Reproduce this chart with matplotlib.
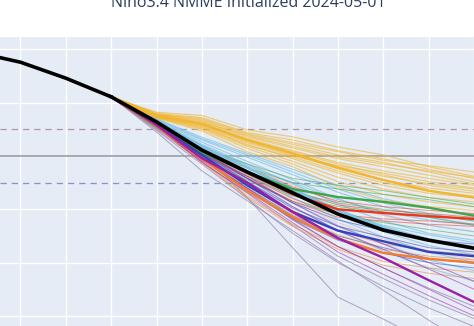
import matplotlib
matplotlib.use('Agg')
import matplotlib.pyplot as plt

# Observed Nino3.4 anomaly (months relative to Jan 2024)
obs_bulan = [-1, 0, 1, 2]
obs_nilai = [1.95, 1.76, 1.46, 1.11]

# Forecast months; every member starts from the last observed value
fc_bulan = [2, 3, 4, 5, 6, 7, 8, 9, 10]
titik_awal = 1.11

# Ensemble mean of all models
rata_semua = [0.64, 0.11, -0.30, -0.69, -1.09, -1.39, -1.58, -1.73]

# Members per model (values for months 3..10)
kuning = [
    [0.82, 0.76, 0.49, 0.36, 0.17, 0.02, -0.20, -0.38],
    [0.80, 0.72, 0.44, 0.30, 0.10, -0.05, -0.25, -0.42],
    [0.79, 0.68, 0.40, 0.22, 0.02, -0.12, -0.30, -0.48],
    [0.78, 0.66, 0.36, 0.15, -0.05, -0.20, -0.36, -0.52],
    [0.77, 0.63, 0.33, 0.10, -0.12, -0.28, -0.42, -0.55],
    [0.76, 0.60, 0.30, 0.05, -0.20, -0.38, -0.52, -0.62],
    [0.75, 0.58, 0.27, 0.02, -0.24, -0.45, -0.60, -0.70],
    [0.74, 0.55, 0.22, -0.05, -0.32, -0.55, -0.70, -0.78],
    [0.73, 0.52, 0.18, -0.10, -0.40, -0.62, -0.78, -0.86],
    [0.72, 0.50, 0.14, -0.15, -0.48, -0.72, -0.86, -0.95],
    [0.71, 0.47, 0.08, -0.20, -0.58, -0.83, -0.95, -1.02],
    [0.78, 0.70, 0.42, 0.25, 0.08, -0.08, -0.18, -0.30],
    [0.76, 0.64, 0.38, 0.18, -0.02, -0.15, -0.28, -0.40],
    [0.74, 0.57, 0.25, 0.00, -0.18, -0.32, -0.48, -0.60],
    [0.73, 0.54, 0.20, -0.02, -0.28, -0.50, -0.66, -0.75],
    [0.75, 0.61, 0.31, 0.08, -0.15, -0.35, -0.55, -0.66],
]
kuning_rata = [0.76, 0.60, 0.30, 0.05, -0.22, -0.45, -0.65, -0.78]

biru_muda = [
    [0.70, 0.35, 0.05, -0.25, -0.55, -0.80, -0.98, -1.10],
    [0.68, 0.30, -0.02, -0.35, -0.68, -0.95, -1.15, -1.28],
    [0.67, 0.26, -0.10, -0.45, -0.80, -1.10, -1.30, -1.42],
    [0.66, 0.22, -0.15, -0.52, -0.90, -1.22, -1.45, -1.58],
    [0.65, 0.18, -0.22, -0.60, -1.00, -1.32, -1.55, -1.70],
    [0.64, 0.14, -0.28, -0.68, -1.08, -1.42, -1.68, -1.85],
    [0.63, 0.10, -0.35, -0.78, -1.18, -1.52, -1.80, -2.00],
    [0.62, 0.07, -0.42, -0.88, -1.30, -1.65, -1.95, -2.15],
    [0.66, 0.20, -0.18, -0.50, -0.82, -1.05, -1.20, -1.30],
    [0.64, 0.12, -0.30, -0.65, -1.02, -1.30, -1.48, -1.62],
    [0.61, 0.04, -0.48, -0.95, -1.40, -1.78, -2.10, -2.35],
    [0.69, 0.32, 0.02, -0.30, -0.62, -0.88, -1.08, -1.22],
]
biru_muda_rata = [0.65, 0.17, -0.22, -0.62, -1.02, -1.35, -1.58, -1.72]

hijau = [
    [0.54, 0.02, -0.38, -0.75, -0.95, -1.05, -1.15, -1.30],
    [0.56, 0.10, -0.22, -0.50, -0.62, -0.72, -0.82, -0.95],
    [0.53, -0.02, -0.45, -0.85, -1.10, -1.25, -1.38, -1.50],
    [0.57, 0.14, -0.15, -0.42, -0.55, -0.65, -0.78, -0.90],
    [0.55, 0.05, -0.32, -0.68, -0.88, -1.00, -1.10, -1.22],
]
hijau_rata = [0.55, 0.07, -0.30, -0.62, -0.77, -0.86, -0.97, -1.12]

merah = [
    [0.62, 0.18, -0.22, -0.58, -0.85, -0.95, -1.02, -1.08],
    [0.58, 0.06, -0.42, -0.85, -1.15, -1.22, -1.28, -1.32],
    [0.61, 0.15, -0.28, -0.65, -0.92, -1.02, -1.08, -1.15],
    [0.59, 0.08, -0.38, -0.80, -1.10, -1.18, -1.22, -1.28],
]
merah_rata = [0.60, 0.12, -0.32, -0.72, -1.00, -1.07, -1.13, -1.18]

biru = [
    [0.60, 0.10, -0.42, -0.88, -1.20, -1.40, -1.58, -1.65],
    [0.56, -0.05, -0.65, -1.18, -1.58, -1.82, -2.00, -2.10],
    [0.59, 0.06, -0.48, -0.98, -1.32, -1.52, -1.72, -1.80],
    [0.57, -0.02, -0.60, -1.12, -1.50, -1.72, -1.92, -2.02],
]
biru_rata = [0.58, 0.02, -0.55, -1.05, -1.40, -1.60, -1.80, -1.88]

oranye = [
    [0.58, 0.02, -0.55, -1.02, -1.40, -1.65, -1.78, -1.85],
    [0.55, -0.10, -0.75, -1.28, -1.70, -1.98, -2.10, -2.18],
    [0.57, -0.02, -0.60, -1.10, -1.48, -1.75, -1.88, -1.95],
    [0.54, -0.12, -0.78, -1.32, -1.75, -2.05, -2.20, -2.30],
]
oranye_rata = [0.56, -0.05, -0.65, -1.15, -1.55, -1.82, -1.93, -2.00]

ungu = [
    [0.57, -0.08, -0.60, -1.18, -1.70, -2.10, -2.50, -2.90],
    [0.59, 0.02, -0.42, -0.95, -1.40, -1.75, -2.12, -2.50],
    [0.56, -0.12, -0.68, -1.25, -1.80, -2.22, -2.62, -3.00],
    [0.60, 0.05, -0.38, -0.88, -1.32, -1.65, -2.00, -2.35],
]
ungu_rata = [0.58, -0.04, -0.50, -1.05, -1.54, -1.91, -2.33, -2.74]

lavender = [
    [0.55, 0.05, -0.78, -1.72, -2.65, -3.06, -3.50, -3.90],
    [0.45, -0.28, -0.84, -1.40, -1.97, -2.52, -3.08, -3.60],
    [0.50, -0.10, -0.70, -1.30, -1.88, -2.30, -2.70, -3.05],
    [0.52, -0.05, -0.62, -1.20, -1.70, -2.10, -2.48, -2.82],
    [0.48, -0.15, -0.80, -1.45, -2.00, -2.45, -2.85, -3.20],
]

pink = [
    [0.62, 0.15, -0.30, -0.72, -1.10, -1.38, -1.60, -1.75],
    [0.60, 0.08, -0.40, -0.85, -1.25, -1.55, -1.78, -1.95],
    [0.63, 0.20, -0.20, -0.55, -0.88, -1.12, -1.30, -1.42],
]

judul = 'Nino3.4 NMME Initialized 2024-05-01'

# Figure: plot area is cropped by the figure edges
fig = plt.figure(figsize=(4.74, 3.26), dpi=100)
ax = fig.add_axes([0, 0, 1, 289 / 326])
ax.set_facecolor('#E5ECF6')
for s in ax.spines.values():
    s.set_visible(False)
ax.set_xlim(-0.452, 9.897)
ax.set_ylim(-3.19, 2.233)
ax.set_xticks(range(0, 11))
ax.set_yticks(range(-3, 3))
ax.tick_params(length=0, labelbottom=False, labelleft=False)
ax.grid(color='white', linewidth=1)
ax.set_axisbelow(True)

# Threshold lines
ax.axhline(0, color='#A3A3A8', linewidth=1.3, zorder=1)
ax.axhline(0.5, color='#B3939E', linewidth=0.9, dashes=(5, 4), zorder=1)
ax.axhline(-0.5, color='#8592CC', linewidth=0.9, dashes=(5, 4), zorder=1)

def gambar_model(anggota, warna, rata=None, alpha=0.55, lw=0.7):
    for a in anggota:
        ax.plot(fc_bulan, [titik_awal] + a, color=warna, linewidth=lw, alpha=alpha, zorder=2)
    if rata is not None:
        ax.plot(fc_bulan, [titik_awal] + rata, color=warna, linewidth=1.7, zorder=3)

gambar_model(lavender, '#9E8CB6', alpha=0.8)
gambar_model(pink, '#F2A3AE')
gambar_model(biru_muda, '#7CC3E6', biru_muda_rata, alpha=0.75, lw=0.8)
gambar_model(kuning, '#F2B52E', kuning_rata, alpha=0.6, lw=0.9)
gambar_model(hijau, '#3FA64A', hijau_rata)
gambar_model(merah, '#E8381E', merah_rata)
gambar_model(biru, '#3142BE', biru_rata)
gambar_model(oranye, '#F07C2C', oranye_rata)
gambar_model(ungu, '#9A1EA6', ungu_rata)

# Observations + ensemble mean
ax.plot(obs_bulan, obs_nilai, color='black', linewidth=2.6, zorder=4)
ax.plot(fc_bulan, [titik_awal] + rata_semua, color='black', linewidth=2.6, zorder=4)

# Title sits partly above the top edge, as in the cropped original
fig.text(248 / 474, 1 - 7 / 326, judul, ha='center', va='baseline',
         fontsize=11.5, color='#2A3F5F', family='Open Sans')

fig.savefig('out.png', dpi=100)
